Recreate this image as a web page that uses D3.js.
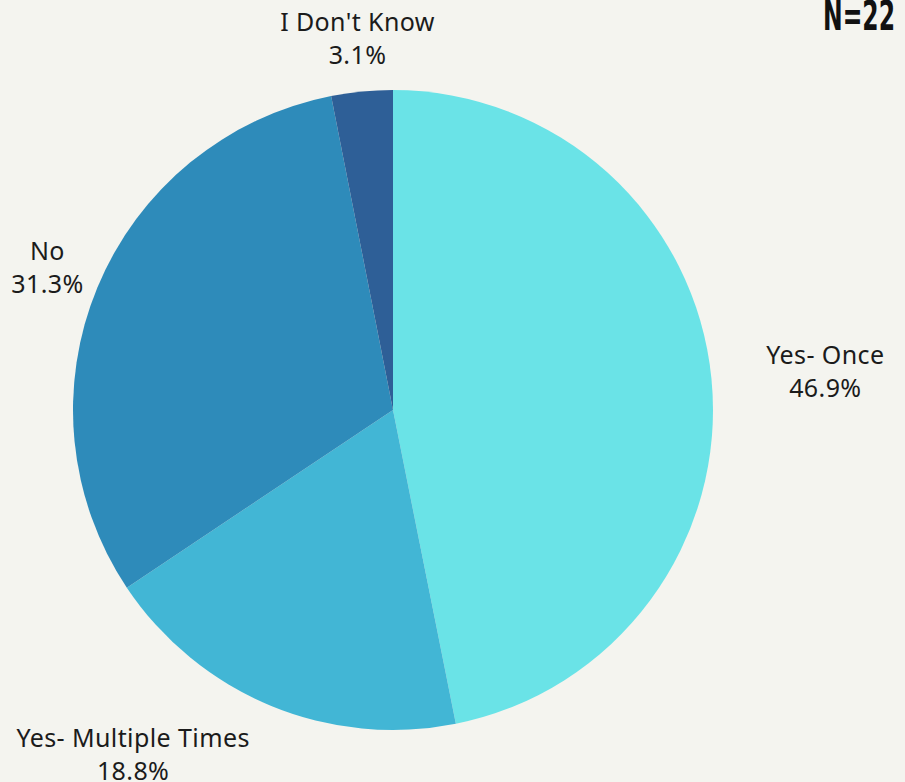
<!DOCTYPE html>
<html>
<head>
<meta charset="utf-8">
<script src="https://cdn.jsdelivr.net/npm/d3@7"></script>
<style>
  html, body { margin: 0; padding: 0; background: #F4F4EF; }
  svg { display: block; }
</style>
</head>
<body>
<div id="chart"></div>
<script>
// Survey answers, share of respondents (%)
const categories = ["Yes- Once", "Yes- Multiple Times", "No", "I Don't Know"];
const values = [46.9, 18.8, 31.3, 3.1];
const colors = ["#6AE3E7", "#42B6D5", "#2E8BBA", "#2E5F97"];
const sampleLabel = "N=22";

const width = 905, height = 782;
const cx = 393, cy = 410, radius = 320;

const svg = d3.select("#chart").append("svg")
  .attr("width", width).attr("height", height);

svg.append("rect").attr("width", width).attr("height", height).attr("fill", "#F4F4EF");

const data = categories.map((c, i) => ({ name: c, value: values[i], color: colors[i] }));

const pie = d3.pie().value(d => d.value).sort(null);
const arc = d3.arc().innerRadius(0).outerRadius(radius);
const labelArc = d3.arc().innerRadius(345).outerRadius(345);

const arcs = pie(data);
const g = svg.append("g").attr("transform", `translate(${cx},${cy})`);

g.selectAll("path.slice")
  .data(arcs)
  .join("path")
  .attr("class", "slice")
  .attr("d", arc)
  .attr("fill", d => d.data.color);

// label nudges away from the outer anchor point, per slice
const nudges = [[89, -12], [-128, 18], [-27, -18], [-2, -36]];

const labels = g.selectAll("text.lbl")
  .data(arcs)
  .join("text")
  .attr("class", "lbl")
  .attr("text-anchor", "middle")
  .attr("font-family", "'Noto Sans', 'Open Sans', sans-serif")
  .attr("font-size", 25)
  .attr("letter-spacing", 0.4)
  .attr("fill", "#1b1b1b")
  .attr("transform", (d, i) => {
    const [x, y] = labelArc.centroid(d);
    return `translate(${x + nudges[i][0]},${y + nudges[i][1]})`;
  });

labels.append("tspan").attr("x", 0).attr("y", 0).text(d => d.data.name);
labels.append("tspan").attr("x", 0).attr("y", 33).text(d => d.data.value.toFixed(1) + "%");

svg.append("text")
  .attr("x", 895).attr("y", 30)
  .attr("text-anchor", "end")
  .attr("font-family", "'Liberation Sans Narrow', 'DejaVu Sans Condensed', sans-serif")
  .attr("font-weight", "bold")
  .attr("font-size", 40)
  .attr("textLength", 72)
  .attr("lengthAdjust", "spacingAndGlyphs")
  .attr("fill", "#111")
  .text(sampleLabel);
</script>
</body>
</html>
